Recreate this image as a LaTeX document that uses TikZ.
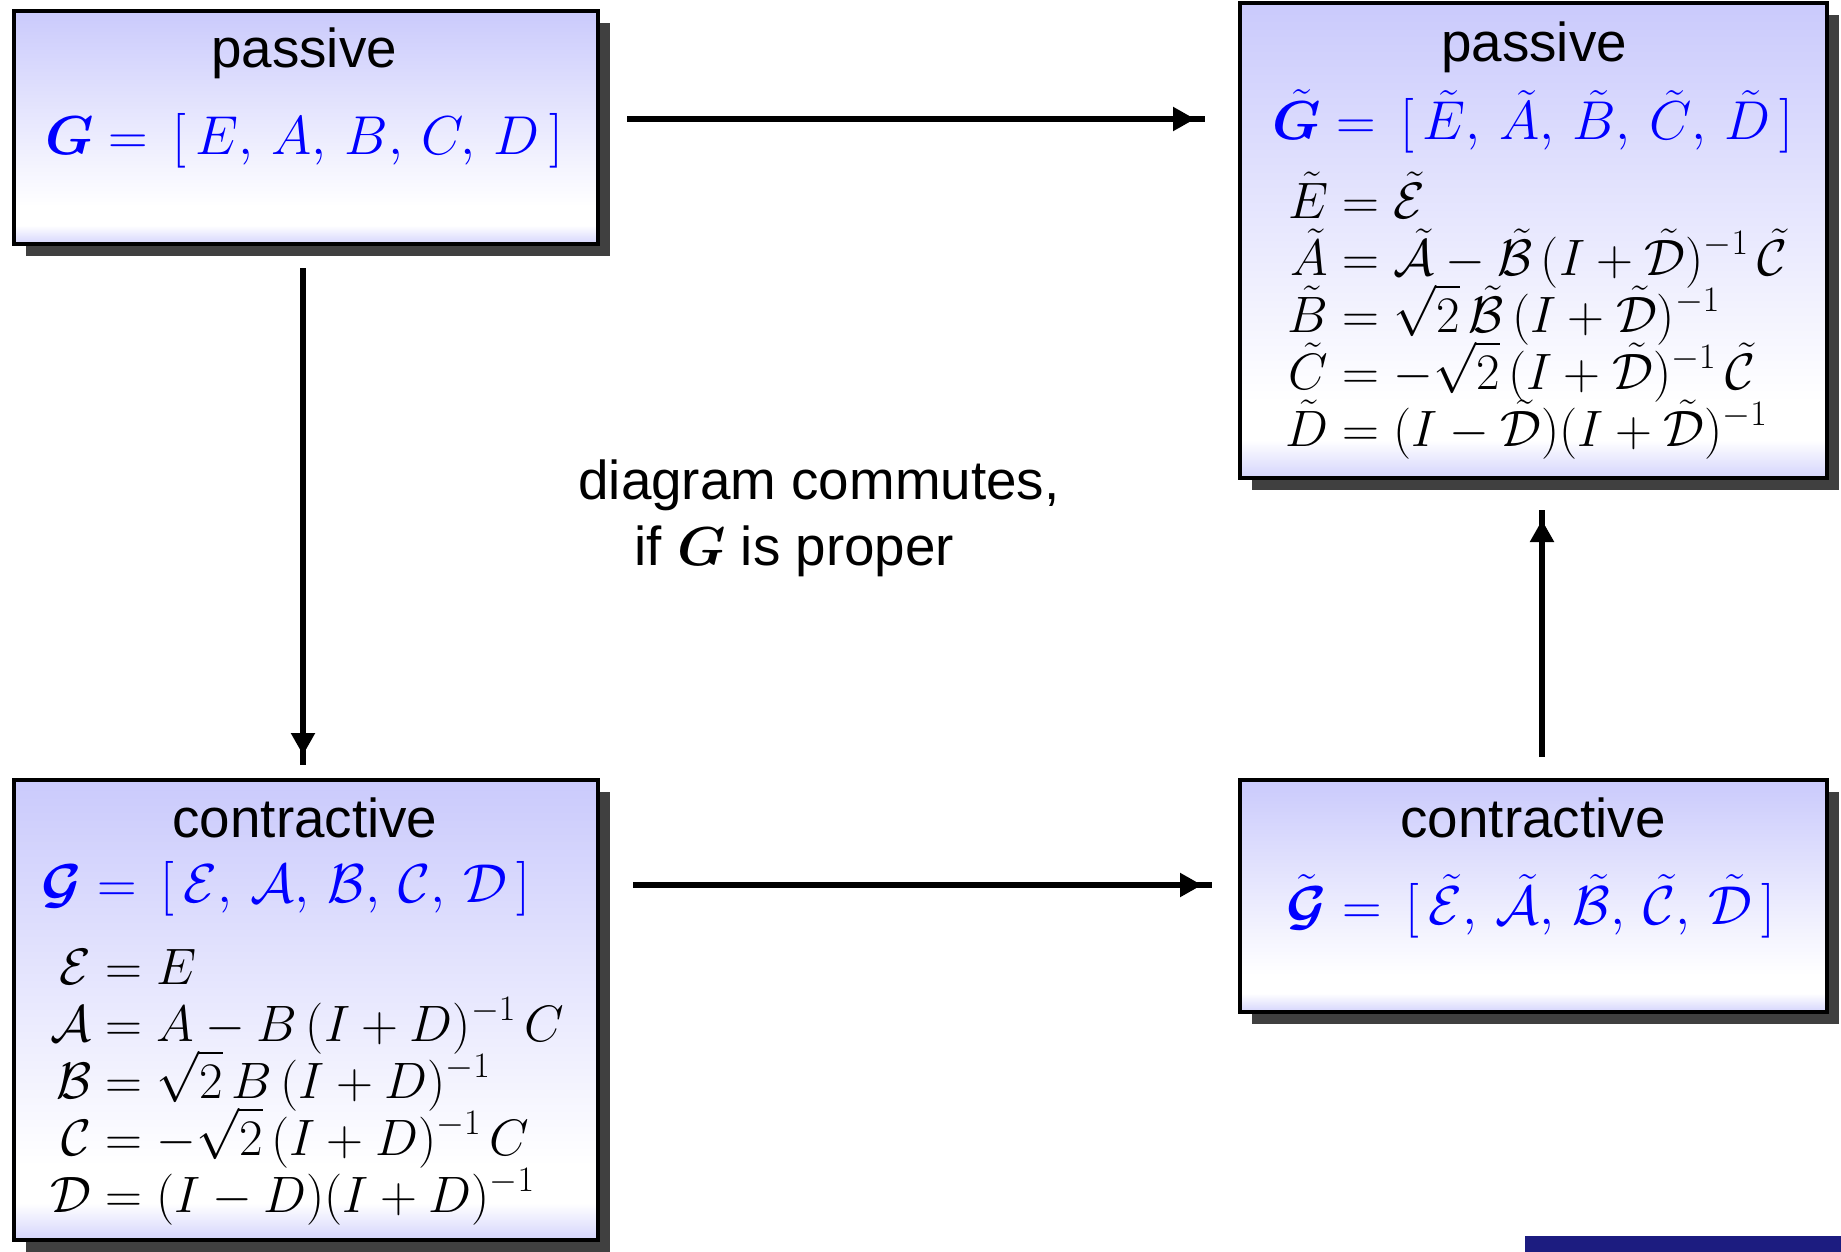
\RequirePackage{fix-cm}
\documentclass[tikz,border=0pt]{standalone}
\usepackage{amsmath,bm}
\usepackage[no-math]{fontspec}
\setmainfont{Liberation Sans}
\usetikzlibrary{shadows,arrows.meta,decorations.markings,calc}
\definecolor{lav}{RGB}{202,202,252}
\definecolor{lavb}{RGB}{212,212,252}
\definecolor{shadowgray}{RGB}{64,64,64}
\definecolor{navybar}{RGB}{28,28,128}
\definecolor{eqblue}{RGB}{0,0,255}
\pgfdeclareverticalshading{boxshade}{100bp}{color(0bp)=(lavb); color(25bp)=(lavb); color(29bp)=(white); color(33bp)=(white); color(75bp)=(lav); color(100bp)=(lav)}
\setlength{\jot}{0pt}
\tikzset{
  box/.style={draw=black, line width=2pt, shading=boxshade, inner sep=0pt,
    drop shadow={shadow xshift=6pt, shadow yshift=-6pt, opacity=1, fill=shadowgray}},
  ttl/.style={anchor=base, inner sep=0pt, font=\fontsize{27.4pt}{33pt}\selectfont},
  hdr/.style={anchor=base, inner sep=0pt, text=eqblue, font=\fontsize{27.4pt}{33pt}\selectfont},
  eqs/.style={anchor=base west, inner sep=0pt, font=\fontsize{25.6pt}{28.6pt}\selectfont},
  conn/.style={line width=2.6pt, postaction={decorate},
    decoration={markings, mark=at position -5pt with {\arrow{Triangle[length=11pt,width=11.5pt]}}}}
}
\begin{document}
\begin{tikzpicture}[x=0.5pt,y=-0.5pt]
\useasboundingbox (0,0) rectangle (1841,1252);
% boxes
\node[box, minimum width=292pt, minimum height=116.5pt] (tl) at (306,127.5) {};
\node[box, minimum width=293.5pt, minimum height=237.5pt] (tr) at (1533.5,240.5) {};
\node[box, minimum width=292pt, minimum height=230pt] (bl) at (306,1010) {};
\node[box, minimum width=293.5pt, minimum height=116pt] (br) at (1533.5,896) {};
% contents
\node[ttl] (tlt) at (304,68) {passive};
\node[hdr] (tlm) at (304,155) {$\bm{G} = \,[\,E,\,A,\,B,\,C,\,D\,]$};
\node[ttl] (trt) at (1534,62) {passive};
\node[hdr] (trm) at (1533,140) {$\tilde{\bm{G}} = \,[\,\tilde{E},\,\tilde{A},\,\tilde{B},\,\tilde{C},\,\tilde{D}\,]$};
\node[eqs] (tre) at (1285,218) {\lineskiplimit=-100pt$\begin{aligned}[t]
\tilde{E} &= \tilde{\mathcal{E}}\\
\tilde{A} &= \tilde{\mathcal{A}} - \tilde{\mathcal{B}}\,(I+\tilde{\mathcal{D}})^{-1}\,\tilde{\mathcal{C}}\\
\tilde{B} &= \sqrt{2}\,\tilde{\mathcal{B}}\,(I+\tilde{\mathcal{D}})^{-1}\\
\tilde{C} &= -\sqrt{2}\,(I+\tilde{\mathcal{D}})^{-1}\,\tilde{\mathcal{C}}\\
\tilde{D} &= (I-\tilde{\mathcal{D}})(I+\tilde{\mathcal{D}})^{-1}
\end{aligned}$};
\node[ttl] (blt) at (305,837) {contractive};
\node[hdr] (blm) at (286,902) {$\bm{\mathcal{G}} = \,[\,\mathcal{E},\,\mathcal{A},\,\mathcal{B},\,\mathcal{C},\,\mathcal{D}\,]$};
\node[eqs] (ble) at (50,984) {\lineskiplimit=-100pt$\begin{aligned}[t]
\mathcal{E} &= E\\
\mathcal{A} &= A - B\,(I+D)^{-1}\,C\\
\mathcal{B} &= \sqrt{2}\,B\,(I+D)^{-1}\\
\mathcal{C} &= -\sqrt{2}\,(I+D)^{-1}\,C\\
\mathcal{D} &= (I-D)(I+D)^{-1}
\end{aligned}$};
\node[ttl] (brt) at (1533,837) {contractive};
\node[hdr] (brm) at (1531,924) {$\tilde{\bm{\mathcal{G}}} = \,[\,\tilde{\mathcal{E}},\,\tilde{\mathcal{A}},\,\tilde{\mathcal{B}},\,\tilde{\mathcal{C}},\,\tilde{\mathcal{D}}\,]$};
% comment
\node[ttl, anchor=base west] (c1) at (578,499) {diagram commutes,};
\node[ttl, anchor=base west] (c2) at (634,565) {if $\bm{G}$ is proper};
% connectors
\coordinate (t1) at ($(tl.east)+(27,-8.5)$);
\coordinate (t2) at ($(tr.west)+(-33,0)$);
\draw[conn] (t1) -- (t1 -| t2);
\coordinate (l1) at ($(tl.south)+(-3,22)$);
\coordinate (l2) at ($(bl.north)+(0,-13)$);
\draw[conn] (l1) -- (l1 |- l2);
\coordinate (b1) at ($(bl.east)+(33,-125)$);
\coordinate (b2) at ($(br.west)+(-26,0)$);
\draw[conn] (b1) -- (b1 -| b2);
\coordinate (r1) at ($(br.north)+(8.5,-21)$);
\coordinate (r2) at ($(tr.south)+(0,30)$);
\draw[conn] (r1) -- (r1 |- r2);
% bar
\fill[navybar] (1525,1236) rectangle (1841,1256);
\end{tikzpicture}
\end{document}
